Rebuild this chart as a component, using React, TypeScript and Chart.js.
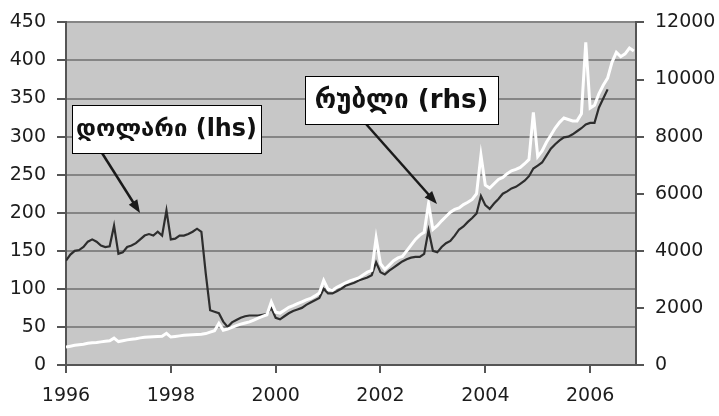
import React, { useEffect, useRef } from "react";
import { Chart, registerables } from "chart.js";

Chart.register(...registerables);

const startYear = 1996;
const xMax = 2006.875;
const yearTicks = [1996, 1998, 2000, 2002, 2004, 2006];
const leftTicks = [0, 50, 100, 150, 200, 250, 300, 350, 400, 450];
const rightTicks = [0, 2000, 4000, 6000, 8000, 10000, 12000];

const dollarLabel = "დოლარი (lhs)";
const rubleLabel = "რუბლი (rhs)";

// Monthly values, Jan 1996 onwards
const dollar = [
  137, 145, 150, 151, 155, 162, 165, 162, 157, 155, 156, 183,
  146, 148, 155, 157, 160, 165, 170, 172, 170, 175, 170, 203,
  165, 166, 170, 170, 172, 175, 179, 175, 120, 72, 70, 68,
  57, 50, 56, 59, 62, 64, 65, 65, 65, 66, 67, 75,
  62, 60, 64, 68, 71, 73, 75, 79, 82, 85, 88, 100,
  94, 94, 97, 100, 104, 106, 108, 111, 113, 115, 118, 135,
  122, 119, 124, 128, 132, 136, 139, 141, 142, 142, 146, 177,
  150, 148, 155, 160, 163, 170, 178, 182, 188, 193, 199, 222,
  210, 205, 212, 218, 225, 228, 232, 234, 238, 242, 248, 258,
  262, 266, 275, 284, 290, 295, 299, 300, 303, 307, 311, 316,
  318, 318, 338, 350, 362,
];

const ruble = [
  630, 660, 690, 710, 730, 760, 780, 790, 810, 830, 850, 940,
  820, 850, 880, 900, 920, 950, 970, 980, 990, 1000, 1010, 1110,
  980, 1000, 1020, 1040, 1050, 1060, 1070, 1080, 1100, 1150, 1200, 1460,
  1220, 1260, 1320, 1380, 1430, 1470, 1510, 1570, 1640, 1700, 1760, 2210,
  1850, 1820, 1920, 2020, 2080, 2150, 2210, 2280, 2330, 2420, 2520, 2960,
  2650, 2620, 2720, 2800, 2880, 2950, 3000, 3050, 3150, 3250, 3310, 4450,
  3550, 3350, 3500, 3650, 3750, 3800, 4000, 4200, 4400, 4550, 4650, 5650,
  4750, 4880, 5050, 5200, 5350, 5450, 5500, 5620, 5700, 5800, 6000, 7350,
  6300, 6200, 6350, 6500, 6570, 6700, 6800, 6850, 6920, 7050, 7200, 8850,
  7300, 7500, 7800, 8050, 8300, 8500, 8650, 8600, 8550, 8550, 8800, 11300,
  9000, 9100, 9500, 9800, 10050, 10600, 10950, 10800, 10900, 11100, 11000,
];

const toPoints = (vals: number[]) =>
  vals.map((v, i) => ({ x: startYear + i / 12, y: v }));

const tickFont = { family: "'DejaVu Sans', Verdana, sans-serif", size: 19 };

const bgPlugin = {
  id: "bgPlugin",
  beforeDraw(chart: any) {
    const { ctx, chartArea } = chart;
    ctx.save();
    ctx.fillStyle = "#ffffff";
    ctx.fillRect(0, 0, chart.width, chart.height);
    ctx.fillStyle = "#c7c7c7";
    ctx.fillRect(
      chartArea.left,
      chartArea.top,
      chartArea.right - chartArea.left,
      chartArea.bottom - chartArea.top
    );
    ctx.restore();
  },
};

function drawArrow(ctx: CanvasRenderingContext2D, x1: number, y1: number, x2: number, y2: number) {
  const ang = Math.atan2(y2 - y1, x2 - x1);
  const head = 13;
  const half = 5;
  ctx.beginPath();
  ctx.moveTo(x1, y1);
  ctx.lineTo(x2 - Math.cos(ang) * head * 0.8, y2 - Math.sin(ang) * head * 0.8);
  ctx.stroke();
  ctx.beginPath();
  ctx.moveTo(x2, y2);
  ctx.lineTo(
    x2 - Math.cos(ang) * head + Math.cos(ang + Math.PI / 2) * half,
    y2 - Math.sin(ang) * head + Math.sin(ang + Math.PI / 2) * half
  );
  ctx.lineTo(
    x2 - Math.cos(ang) * head - Math.cos(ang + Math.PI / 2) * half,
    y2 - Math.sin(ang) * head - Math.sin(ang + Math.PI / 2) * half
  );
  ctx.closePath();
  ctx.fill();
}

function drawBox(
  ctx: CanvasRenderingContext2D,
  text: string,
  left: number,
  top: number,
  w: number,
  h: number,
  textWidth: number
) {
  ctx.fillStyle = "#ffffff";
  ctx.fillRect(left, top, w, h);
  ctx.strokeStyle = "#000000";
  ctx.lineWidth = 1;
  ctx.strokeRect(left + 0.5, top + 0.5, w, h);
  let size = 22;
  ctx.font = `bold ${size}px 'DejaVu Sans', sans-serif`;
  const m = ctx.measureText(text).width;
  size = Math.min(26, Math.max(14, (size * textWidth) / m));
  ctx.font = `bold ${size}px 'DejaVu Sans', sans-serif`;
  ctx.fillStyle = "#111111";
  ctx.textAlign = "center";
  ctx.textBaseline = "middle";
  ctx.fillText(text, left + w / 2, top + h / 2 + 1);
}

const annotationPlugin = {
  id: "annotationPlugin",
  afterDatasetsDraw(chart: any) {
    const { ctx } = chart;
    ctx.save();
    ctx.strokeStyle = "#1a1a1a";
    ctx.fillStyle = "#1a1a1a";
    ctx.lineWidth = 2.5;
    drawArrow(ctx, 102, 153, 140, 213);
    ctx.strokeStyle = "#1a1a1a";
    ctx.fillStyle = "#1a1a1a";
    ctx.lineWidth = 2.5;
    drawArrow(ctx, 366, 124, 437, 204);
    drawBox(ctx, dollarLabel, 72, 105, 189, 48, 181);
    drawBox(ctx, rubleLabel, 305, 76, 193, 48, 174);
    ctx.restore();
  },
};

export default function App() {
  const ref = useRef<HTMLCanvasElement | null>(null);

  useEffect(() => {
    document.body.style.margin = "0";
    if (!ref.current) return;
    const chart = new Chart(ref.current, {
      type: "line",
      data: {
        datasets: [
          {
            label: rubleLabel,
            data: toPoints(ruble),
            yAxisID: "y1",
            borderColor: "#ffffff",
            borderWidth: 3,
            pointRadius: 0,
            tension: 0,
            order: 0,
          },
          {
            label: dollarLabel,
            data: toPoints(dollar),
            yAxisID: "y",
            borderColor: "#2e2e2e",
            borderWidth: 2.2,
            pointRadius: 0,
            tension: 0,
            order: 1,
          },
        ],
      },
      options: {
        animation: false,
        responsive: true,
        maintainAspectRatio: false,
        layout: { padding: { top: 21, left: 0, right: 0, bottom: 0 } },
        plugins: {
          legend: { display: false },
          tooltip: { enabled: false },
        },
        scales: {
          x: {
            type: "linear",
            min: startYear,
            max: xMax,
            afterBuildTicks: (s: any) => {
              s.ticks = yearTicks.map((v) => ({ value: v }));
            },
            afterFit: (s: any) => {
              s.height = 51;
            },
            ticks: {
              font: tickFont,
              color: "#1c1c1c",
              padding: 12,
              maxRotation: 0,
              autoSkip: false,
              callback: (v: any) => String(v),
            },
            grid: {
              drawOnChartArea: false,
              drawTicks: true,
              tickLength: 8,
              color: "#555555",
              lineWidth: 2,
            },
            border: { display: true, color: "#555555", width: 2 },
          },
          y: {
            position: "left",
            min: 0,
            max: 450,
            afterBuildTicks: (s: any) => {
              s.ticks = leftTicks.map((v) => ({ value: v }));
            },
            afterFit: (s: any) => {
              s.width = 66;
            },
            ticks: {
              font: tickFont,
              color: "#1c1c1c",
              padding: 11,
              callback: (v: any) => String(v),
            },
            grid: {
              color: "#858585",
              lineWidth: 2,
              tickLength: 9,
              tickColor: "#555555",
            },
            border: { display: true, color: "#555555", width: 2 },
          },
          y1: {
            position: "right",
            min: 0,
            max: 12000,
            afterBuildTicks: (s: any) => {
              s.ticks = rightTicks.map((v) => ({ value: v }));
            },
            afterFit: (s: any) => {
              s.width = 83;
            },
            ticks: {
              font: tickFont,
              color: "#1c1c1c",
              padding: 11,
              callback: (v: any) => String(v),
            },
            grid: {
              drawOnChartArea: false,
              tickLength: 8,
              color: "#555555",
              lineWidth: 2,
            },
            border: { display: true, color: "#555555", width: 2 },
          },
        },
      },
      plugins: [bgPlugin, annotationPlugin],
    } as any);
    return () => chart.destroy();
  }, []);

  return (
    <div style={{ position: "fixed", left: 0, top: 0, width: 719, height: 416 }}>
      <canvas ref={ref} />
    </div>
  );
}
